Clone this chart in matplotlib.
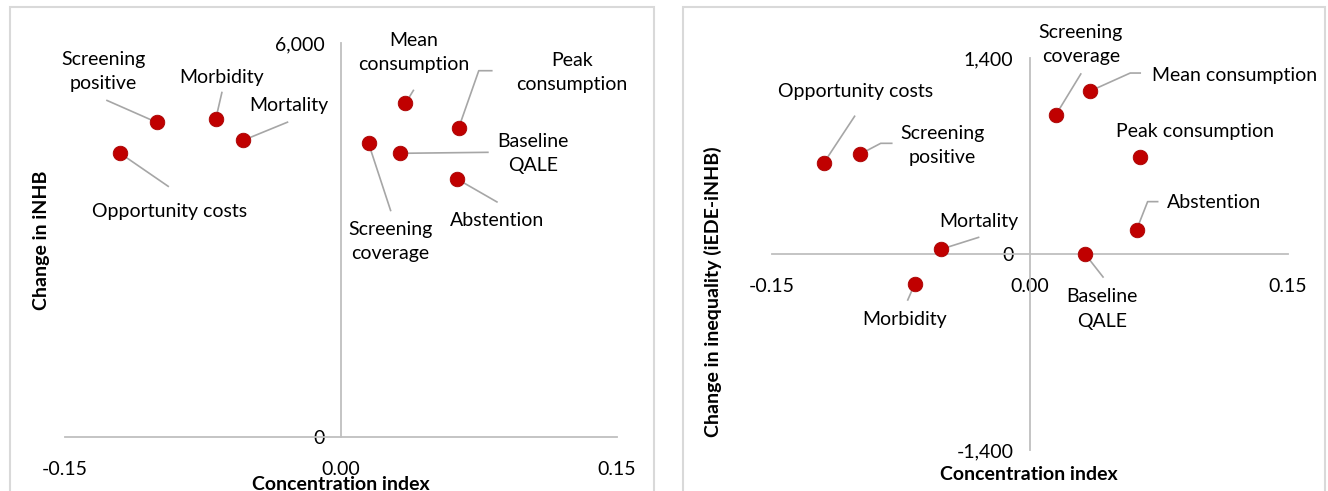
import matplotlib.pyplot as plt
import matplotlib.transforms as mtransforms
from matplotlib.patches import Rectangle

plt.rcParams['font.family'] = ['Lato', 'DejaVu Sans']

# data
names = ['Opportunity costs', 'Screening\npositive', 'Morbidity', 'Mortality',
         'Screening\ncoverage', 'Mean\nconsumption', 'Peak\nconsumption',
         'Baseline\nQALE', 'Abstention']
conc_index = [-0.120, -0.100, -0.068, -0.053, 0.015, 0.035, 0.064, 0.032, 0.063]
change_inhb = [4320, 4790, 4850, 4520, 4470, 5080, 4710, 4320, 3930]

names_r = ['Opportunity costs', 'Screening\npositive', 'Morbidity', 'Mortality',
           'Screening\ncoverage', 'Mean consumption', 'Peak consumption',
           'Baseline\nQALE', 'Abstention']
conc_index_r = [-0.120, -0.099, -0.067, -0.052, 0.015, 0.035, 0.064, 0.032, 0.062]
change_ineq = [648, 712, -214, 33, 993, 1164, 695, 0, 174]

# label placement: text offset and leader line vertices, pixels (y down) from dot
lab_left = [((49, 58), [(48, 33)]),
            ((-54, -51), [(-50, -22)]),
            ((6, -41), [(6, -26)]),
            ((45, -35), [(44, -18)]),
            ((22, 98), [(22, 67)]),
            ((8, -51), [(8, -13)]),
            ((113, -55), [(20, -57), (33, -57)]),
            ((133, 0), [(88, -1)]),
            ((40, 42), [(40, 23)])]
lab_right = [((32, -72), [(31, -47)]),
             ((83, -9), [(21, -11), (32, -11)]),
             ((-10, 36), [(-7, 16)]),
             ((38, -28), [(38, -12)]),
             ((25, -70), [(25, -41)]),
             ((144, -16), [(40, -18), (50, -18)]),
             ((55, -25), []),
             ((17, 55), [(18, 23)]),
             ((77, -27), [(11, -28), (21, -28)])]

W, H = 1328, 491
fig = plt.figure(figsize=(W / 100, H / 100), dpi=100)
fig.patch.set_facecolor('white')

GRAY = '#bfbfbf'
LEAD = '#a6a6a6'
RED = '#c00000'
FS = 14


def px_axes(x0, y0, x1, y1):
    return fig.add_axes([x0 / W, 1 - y1 / H, (x1 - x0) / W, (y1 - y0) / H])


def style(ax, ylim, yticks, ylabels):
    ax.set_xlim(-0.15, 0.15)
    ax.set_ylim(*ylim)
    ax.patch.set_alpha(0)
    for s in ['top', 'right']:
        ax.spines[s].set_visible(False)
    ax.spines['left'].set_position(('data', 0))
    ax.spines['bottom'].set_position(('data', 0))
    for s in ['left', 'bottom']:
        ax.spines[s].set_color(GRAY)
        ax.spines[s].set_linewidth(1.3)
    ax.set_xticks([-0.15, 0.0, 0.15])
    ax.set_xticklabels(['-0.15', '0.00', '0.15'], fontsize=FS)
    ax.set_yticks(yticks)
    ax.set_yticklabels(ylabels, fontsize=FS)
    ax.tick_params(axis='both', length=0)
    ax.tick_params(axis='x', pad=17)
    ax.tick_params(axis='y', pad=12)


def draw(ax, xs, ys, labels, place):
    ax.scatter(xs, ys, s=110, color=RED, edgecolor='#a80000', linewidth=0.6,
               zorder=3, clip_on=False)
    for x, y, lab, (toff, path) in zip(xs, ys, labels, place):
        tr = mtransforms.ScaledTranslation(x, y, ax.transData)
        if path:
            px = [0] + [p[0] for p in path]
            py = [0] + [-p[1] for p in path]
            ax.plot(px, py, color=LEAD, lw=1.2, transform=tr, clip_on=False, zorder=2)
        ax.text(toff[0], -toff[1], lab, transform=tr, ha='center', va='center',
                multialignment='center', fontsize=FS, linespacing=1.5, clip_on=False)


# panel frames
fig.patches.append(Rectangle((10 / W, -0.05), 644 / W, 1.05 - 7 / H,
                             transform=fig.transFigure, fill=False,
                             edgecolor='#d9d9d9', lw=1.5))
fig.patches.append(Rectangle((683 / W, -0.05), 642 / W, 1.05 - 7 / H,
                             transform=fig.transFigure, fill=False,
                             edgecolor='#d9d9d9', lw=1.5))

ax1 = px_axes(65, 43, 617, 437)
style(ax1, (0, 6000), [0, 6000], ['0', '6,000'])
draw(ax1, conc_index, change_inhb, names, lab_left)

ax2 = px_axes(772, 58, 1288, 450)
style(ax2, (-1400, 1400), [-1400, 0, 1400], ['-1,400', '0', '1,400'])
draw(ax2, conc_index_r, change_ineq, names_r, lab_right)

fig.text(341 / W, 1 - 484 / H, 'Concentration index', ha='center', va='center',
         fontsize=FS, fontweight='bold')
fig.text(42 / W, 1 - 240 / H, 'Change in iNHB', ha='center', va='center',
         rotation=90, fontsize=FS, fontweight='bold')
fig.text(1029 / W, 1 - 474 / H, 'Concentration index', ha='center', va='center',
         fontsize=FS, fontweight='bold')
fig.text(713 / W, 1 - 292 / H, 'Change in inequality (iEDE-iNHB)', ha='center',
         va='center', rotation=90, fontsize=FS, fontweight='bold')

fig.savefig('out.png', dpi=100)
